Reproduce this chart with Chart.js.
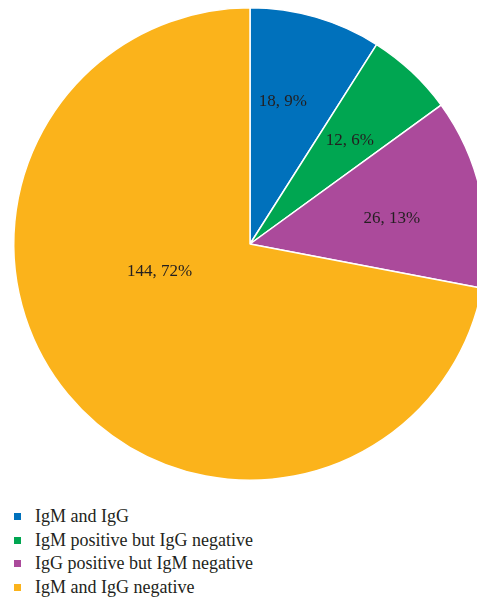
<!DOCTYPE html>
<html>
<head>
<meta charset="utf-8">
<script src="https://cdn.jsdelivr.net/npm/chart.js@4.4.0/dist/chart.umd.min.js"></script>
<style>
  html, body { margin: 0; padding: 0; width: 477px; height: 597px; overflow: hidden; background: #fff; }
  #wrap { position: absolute; left: 0; top: 0; width: 500px; height: 490px; }
  #legend { position: absolute; left: 12px; top: 505px; font-family: "Liberation Serif", "DejaVu Serif", serif; font-size: 18px; color: #231f20; }
  .lg-row { height: 23.5px; line-height: 23.5px; white-space: nowrap; }
  .lg-box { display: inline-block; width: 7px; height: 7px; margin: 0 14px 0 2px; vertical-align: 2px; }
</style>
</head>
<body>
<div id="wrap"><canvas id="c" width="500" height="490"></canvas></div>
<div id="legend"></div>
<script>
// 資料
const labels = ['IgM and IgG', 'IgM positive but IgG negative', 'IgG positive but IgM negative', 'IgM and IgG negative'];
const counts = [18, 12, 26, 144];
const pcts = [9, 6, 13, 72];
const colors = ['#0071bc', '#00a651', '#ab4a9b', '#fbb31b'];

// 標籤位置：弧內角度比例 / 半徑比例
const lblAng = [0.40, 0.53, 0.55, 0.587];
const lblRad = [0.62, 0.61, 0.61, 0.40];

const sliceLabels = {
    id: 'sliceLabels',
    afterDatasetsDraw(chart) {
        const ctx = chart.ctx;
        ctx.save();
        ctx.font = '17px "Liberation Serif", "DejaVu Serif", serif';
        ctx.fillStyle = '#231f20';
        ctx.textAlign = 'center'; ctx.textBaseline = 'middle';
        chart.getDatasetMeta(0).data.forEach((arc, i) => {
            const { x, y, startAngle, endAngle, outerRadius } = arc.getProps(['x', 'y', 'startAngle', 'endAngle', 'outerRadius'], true);
            const a = startAngle + (endAngle - startAngle) * lblAng[i], r = outerRadius * lblRad[i];
            ctx.fillText(`${counts[i]}, ${pcts[i]}%`, x + Math.cos(a) * r, y + Math.sin(a) * r);
        });
        ctx.restore();
    }
};

new Chart(document.getElementById('c').getContext('2d'), {
    type: 'pie',
    data: { labels, datasets: [{ data: counts, backgroundColor: colors, borderColor: '#ffffff', borderWidth: 1.5 }] },
    options: {
        responsive: false, animation: false, devicePixelRatio: 1,
        layout: { padding: { left: 13, right: 13, top: 7, bottom: 9 } },
        plugins: { legend: { display: false }, tooltip: { enabled: false } }
    },
    plugins: [sliceLabels]
});

// 圖例
const lg = document.getElementById('legend');
labels.forEach((t, i) => {
    lg.innerHTML += `<div class="lg-row"><span class="lg-box" style="background:${colors[i]}"></span>${t}</div>`;
});
</script>
</body>
</html>
